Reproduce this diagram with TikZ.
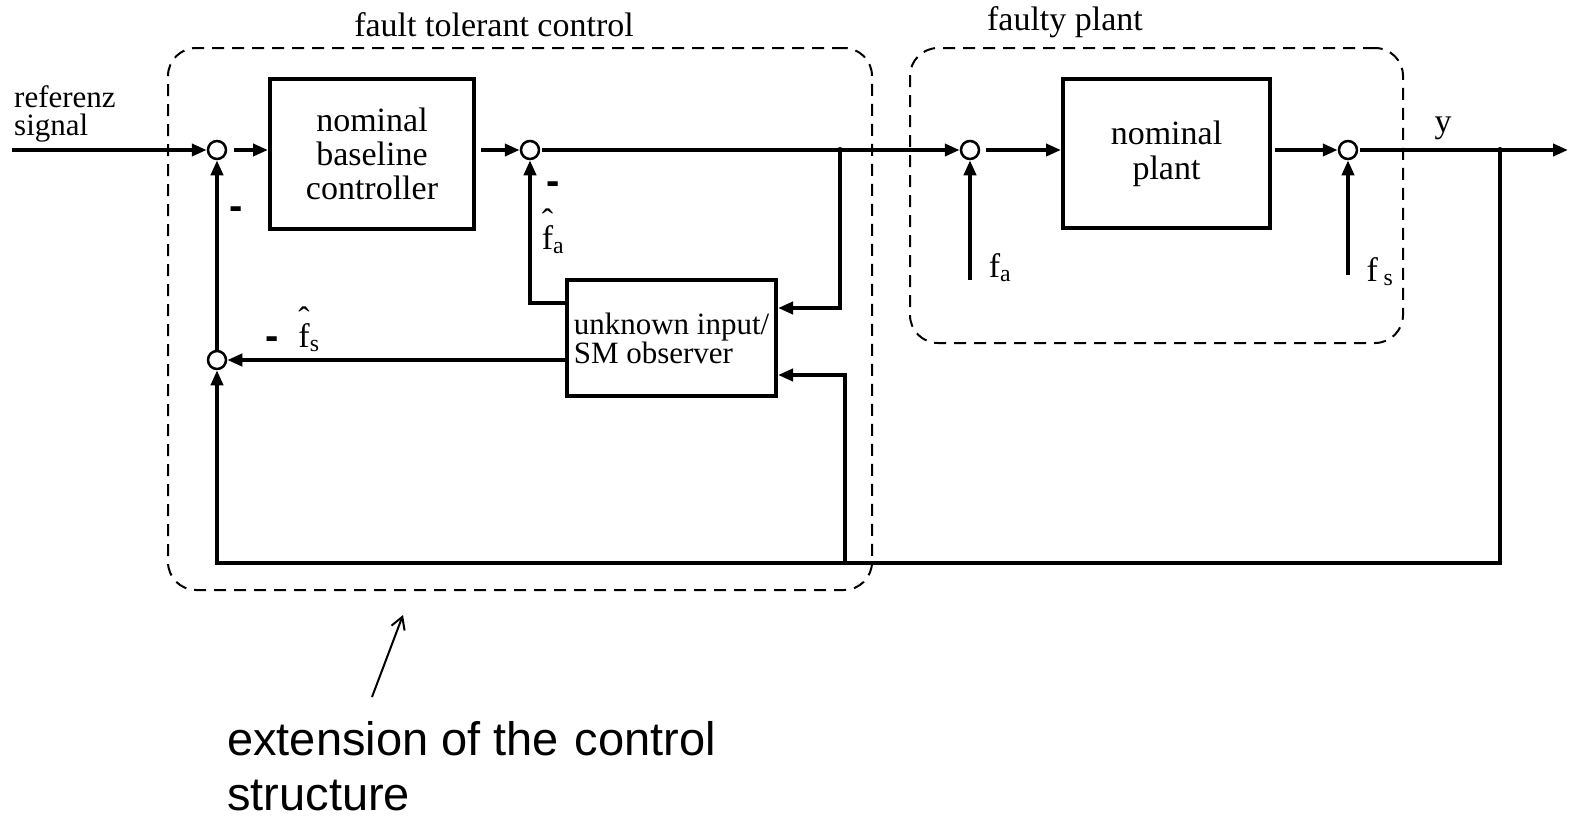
\documentclass[tikz,border=0pt]{standalone}
\usepackage{fontspec}
\setmainfont{Liberation Serif}
\newfontfamily\sansf{Liberation Sans}
\usetikzlibrary{arrows.meta}
\newcommand{\fh}{\ooalign{f\cr\hidewidth\raisebox{0.52em}{\char"02C6}\hidewidth\cr}}
\begin{document}
\begin{tikzpicture}[x=1pt,y=-1pt,
  sig/.style={line width=4pt},
  arr/.style={sig,-{Triangle[length=15pt,width=12pt]}},
  blk/.style={draw, line width=4pt, inner sep=0pt},
  sumc/.style={circle, draw, line width=2.5pt, minimum size=18pt, inner sep=0pt},
  region/.style={draw, line width=2pt, dash pattern=on 12pt off 8pt, rounded corners=28pt, inner sep=0pt},
  big/.style={font=\fontsize{34}{34}\selectfont},
  mid/.style={font=\fontsize{31}{28}\selectfont},
  minus/.style={font=\sansf\bfseries\fontsize{40}{40}\selectfont, inner sep=0pt},
  lbl/.style={font=\fontsize{34}{34}\selectfont, inner sep=0pt},
  ext/.style={font=\sansf\fontsize{47}{55}\selectfont, align=left, inner sep=0pt}
]
\useasboundingbox (0,0) rectangle (1575,820);

% regions
\node[region, minimum width=704pt, minimum height=542pt] (ftc) at (520,319) {};
\node[region, minimum width=493pt, minimum height=295pt] (fp) at (1156.5,195.5) {};
\node[big] (ftctitle) at (494,25) {fault tolerant control};
\node[big] (fptitle) at (1065,22) {faulty plant};

% blocks
\node[blk, minimum width=204pt, minimum height=150pt, align=center, big] (ctrl) at (372,154) {nominal\\baseline\\controller};
\node[blk, minimum width=207pt, minimum height=149pt, align=center, font=\fontsize{34}{35}\selectfont] (plant) at (1166.5,153.5) {nominal\\plant};
\node[blk, minimum width=209pt, minimum height=116pt, align=left, mid] (obs) at (671.5,338) {unknown input/\\SM observer};

% summing points
\node[sumc] (s1) at (217,150) {};
\node[sumc] (s2) at (530,150) {};
\node[sumc] (s3) at (970,150) {};
\node[sumc] (s4) at (217,360) {};
\node[sumc] (s5) at (1348,150) {};

% coordinates
\coordinate (refin) at (12,150);
\coordinate (b1) at (840,150);
\coordinate (b2) at (1500,150);
\coordinate (fb) at (1500,563);
\coordinate (b3) at (845,563);
\coordinate (yout) at (1568,150);
\coordinate (fain) at (970,280);
\coordinate (fsin) at (1348,275);
\coordinate (ptail) at (372,697);
\coordinate (phead) at (403,615);

% signal flow
\draw[arr] (refin) -- (s1.west);
\draw[arr, shorten <=7pt] (s1.east) -- (s1.east -| ctrl.west);
\draw[arr, shorten <=5pt] (s2.west -| ctrl.east) -- (s2.west);
\draw[arr, shorten <=2pt] (s2.east) -- (s3.west);
\draw[arr, shorten <=6pt] (s3.east) -- (s3.east -| plant.west);
\draw[arr, shorten <=3pt] (s5.west -| plant.east) -- (s5.west);
\draw[arr, shorten <=2pt] (s5.east) -- (yout);
\draw[arr] (fain) -- (s3.south);
\draw[arr] (fsin) -- (s5.south);

% observer connections
\draw[arr] (b1) |- ([yshift=30pt]obs.east);
\draw[arr] (b3) |- ([yshift=-37pt]obs.east);
\draw[arr] ([yshift=35pt]obs.west) -| (s2.south);
\draw[arr] (obs.west |- s4) -- (s4.east);
\draw[arr] (s4.north) -- (s1.south);
\draw[arr] (b2) -- (fb) -| (s4.south);
\fill (b1) circle (3pt);
\fill (b2) circle (3pt);

% labels
\node[minus] (m1) at (236,213) {-};
\node[minus] (m2) at (553,188) {-};
\node[minus] (m3) at (272,343) {-};
\node[lbl] (fah) at (553,240) {\fh\textsubscript{a}};
\node[lbl] (fsh) at (309,338) {\fh\textsubscript{s}};
\node[lbl] (fa) at (1000,268) {f\textsubscript{a}};
\node[lbl] (fs) at (1380,272) {f\,\textsubscript{s}};
\node[lbl] (ylab) at (1443,128) {y};
\node[mid, align=left, anchor=west, inner sep=0pt] (ref) at (14,114) {referenz\\signal};

% annotation
\draw[line width=2pt, -{Straight Barb[length=12pt,width=14pt]}] (ptail) -- (phead);
\node[ext, anchor=north west] (extn) at (227,721) {extension of the\,\,control\\structure};
\end{tikzpicture}
\end{document}
